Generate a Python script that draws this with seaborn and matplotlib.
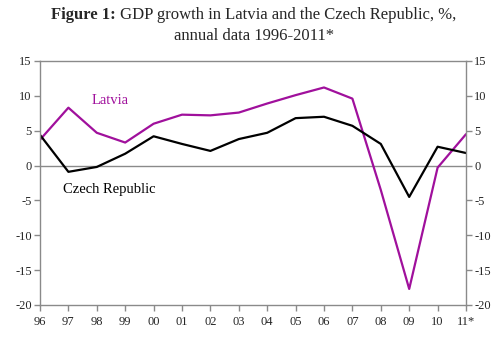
import numpy as np
import pandas as pd
import seaborn as sns
import matplotlib.pyplot as plt

# data
years = ['96', '97', '98', '99', '00', '01', '02', '03', '04', '05', '06', '07', '08', '09', '10', '11*']
latvia = [3.7, 8.3, 4.7, 3.3, 6.0, 7.3, 7.2, 7.6, 8.9, 10.1, 11.2, 9.6, -3.5, -17.7, -0.3, 4.5]
czech = [4.4, -0.9, -0.2, 1.7, 4.2, 3.1, 2.1, 3.8, 4.7, 6.8, 7.0, 5.7, 3.1, -4.5, 2.7, 1.8]
yticks = [-20, -15, -10, -5, 0, 5, 10, 15]

df = pd.DataFrame({'pos': np.arange(len(years)), 'Latvia': latvia, 'Czech Republic': czech})

sns.set_style('white')
plt.rcParams['font.family'] = ['Liberation Serif', 'DejaVu Serif']
plt.rcParams['axes.unicode_minus'] = False

fig = plt.figure(figsize=(5, 3.56), dpi=100)
ax = fig.add_axes([0.08, 0.1433, 0.852, 0.6854])

sns.lineplot(data=df, x='pos', y='Latvia', ax=ax, color='#a0109c', linewidth=1.6)
sns.lineplot(data=df, x='pos', y='Czech Republic', ax=ax, color='black', linewidth=1.6)

ax.axhline(0, color='#8a8a8a', linewidth=1, zorder=0)
ax.set_xlim(0, len(years) - 1)
ax.set_ylim(-20, 15)
ax.set_xticks(df['pos'])
ax.set_xticklabels(years)
ax.set_yticks(yticks)
ax.set_xlabel('')
ax.set_ylabel('')

grey = '#8a8a8a'
for s in ['left', 'right', 'top', 'bottom']:
    ax.spines[s].set_visible(True)
    ax.spines[s].set_color(grey)
    ax.spines[s].set_linewidth(1)
ax.tick_params(axis='both', direction='out', length=4, width=1, color=grey,
               labelsize=9, pad=2, bottom=True, left=True)
ax.tick_params(axis='x', pad=4)

ax2 = ax.twinx()
ax2.set_ylim(-20, 15)
ax2.set_yticks(yticks)
for s in ax2.spines.values():
    s.set_visible(False)
ax2.tick_params(axis='y', direction='out', length=4, width=1, color=grey,
                labelsize=9, pad=2, right=True)

ax.text(1.8, 8.8, 'Latvia', color='#a0109c', fontsize=10.5)
ax.text(0.8, -3.9, 'Czech Republic', color='black', fontsize=10.5)

# title, bold prefix + regular rest
fig.canvas.draw()
r = fig.canvas.get_renderer()
t1 = fig.text(0, 0.958, 'Figure 1:', fontsize=12, fontweight='bold', va='center')
t2 = fig.text(0, 0.958, ' GDP growth in Latvia and the Czech Republic, %,', fontsize=12, va='center')
w1 = t1.get_window_extent(r).width / fig.bbox.width
w2 = t2.get_window_extent(r).width / fig.bbox.width
x0 = 0.508 - (w1 + w2) / 2
t1.set_x(x0)
t2.set_x(x0 + w1)
fig.text(0.508, 0.9, 'annual data 1996-2011*', fontsize=12, ha='center', va='center')

fig.savefig('out.png', dpi=100)
